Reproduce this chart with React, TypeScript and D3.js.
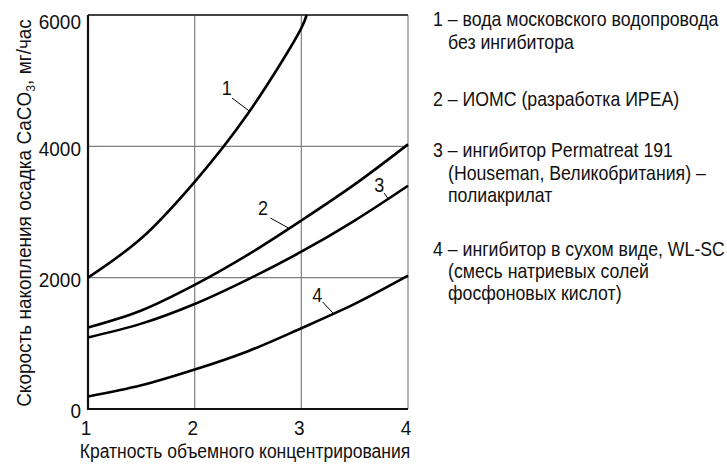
import React from "react";
import * as d3 from "d3";

const xTicks = [1, 2, 3, 4];
const yTicks = [0, 2000, 4000, 6000];

const curve1X = [1, 1.5, 2, 2.5, 3, 3.05];
const curve1Y = [2000, 2600, 3460, 4500, 5800, 6000];
const curveX = [1, 1.5, 2, 2.5, 3, 3.5, 4];
const curve2Y = [1240, 1500, 1890, 2350, 2870, 3420, 4030];
const curve3Y = [1090, 1300, 1600, 1975, 2395, 2870, 3400];
const curve4Y = [190, 360, 600, 880, 1230, 1600, 2030];

const curveLabels = ["1", "2", "3", "4"];
const labelPos = [
  [2.3, 4888],
  [2.64, 3061],
  [3.73, 3411],
  [3.15, 1736],
];
const leaderFrom = [
  [2.35, 4736],
  [2.71, 2908],
  [3.775, 3289],
  [3.2, 1629],
];
const leaderTo = [
  [2.51, 4540],
  [2.875, 2760],
  [3.82, 3190],
  [3.3, 1455],
];

const legendLines = [
  "1 – вода московского водопровода",
  "без ингибитора",
  "2 – ИОМС (разработка ИРЕА)",
  "3 – ингибитор Permatreat 191",
  "(Houseman, Великобритания) –",
  "полиакрилат",
  "4 – ингибитор в сухом виде, WL-SC",
  "(смесь натриевых солей",
  "фосфоновых кислот)",
];
const legendIndent = [false, true, false, false, true, true, false, true, true];
const legendBaselines = [26, 49, 106, 157, 180, 202, 256, 278, 300];

const xLabel = "Кратность объемного концентрирования";

const W = 727;
const H = 468;
const FONT = "'Liberation Sans', Arial, sans-serif";

function CText(props: {
  x: number;
  y: number;
  size: number;
  sx?: number;
  anchor?: "start" | "middle" | "end";
  baseline?: string;
  rotate?: number;
  children: React.ReactNode;
}) {
  const { x, y, size, sx = 1, anchor = "start", baseline, rotate = 0, children } = props;
  return (
    <text
      transform={`translate(${x},${y}) rotate(${rotate}) scale(${sx},1)`}
      textAnchor={anchor}
      dominantBaseline={baseline as any}
      fontSize={size}
      fill="#111"
    >
      {children}
    </text>
  );
}

export default function App() {
  const x = d3.scaleLinear().domain([1, 4]).range([88, 408]);
  const y = d3.scaleLinear().domain([0, 6000]).range([409, 15]);
  const line = d3
    .line<[number, number]>()
    .x((d) => x(d[0]))
    .y((d) => y(d[1]))
    .curve(d3.curveCatmullRom.alpha(0.5));

  const series: [number, number][][] = [
    curve1X.map((v, i) => [v, curve1Y[i]]),
    curveX.map((v, i) => [v, curve2Y[i]]),
    curveX.map((v, i) => [v, curve3Y[i]]),
    curveX.map((v, i) => [v, curve4Y[i]]),
  ];

  const gridColor = "#808080";

  return (
    <div style={{ position: "absolute", left: 0, top: 0 }}>
      <svg width={W} height={H} style={{ display: "block", background: "#fff" }} fontFamily={FONT}>
        <rect width={W} height={H} fill="#fff" />
        {xTicks.slice(1).map((t) => (
          <line key={"gx" + t} x1={x(t)} x2={x(t)} y1={y(6000)} y2={y(0)} stroke={gridColor} strokeWidth={1.2} />
        ))}
        {yTicks.slice(1, 3).map((t) => (
          <line key={"gy" + t} x1={x(1)} x2={x(4)} y1={y(t)} y2={y(t)} stroke={gridColor} strokeWidth={1.2} />
        ))}
        <line x1={x(1)} x2={x(4)} y1={y(6000)} y2={y(6000)} stroke="#444" strokeWidth={1.8} />
        <line x1={x(1)} x2={x(1)} y1={y(6000)} y2={y(0)} stroke="#111" strokeWidth={2.2} />
        <line x1={x(1) - 1} x2={x(4)} y1={y(0)} y2={y(0)} stroke="#111" strokeWidth={2.2} />
        {series.map((s, i) => (
          <path key={"c" + i} d={line(s) || ""} fill="none" stroke="#000" strokeWidth={2.6} />
        ))}
        {curveLabels.map((l, i) => (
          <g key={"l" + i}>
            <line
              x1={x(leaderFrom[i][0])}
              y1={y(leaderFrom[i][1])}
              x2={x(leaderTo[i][0])}
              y2={y(leaderTo[i][1])}
              stroke="#000"
              strokeWidth={1}
            />
            <CText x={x(labelPos[i][0])} y={y(labelPos[i][1])} size={20} sx={0.9} anchor="middle" baseline="central">
              {l}
            </CText>
          </g>
        ))}
        {yTicks.map((t) => (
          <CText key={"yt" + t} x={81} y={t === 6000 ? y(t) + 7 : y(t) + 2} size={20} sx={0.95} anchor="end" baseline="central">
            {t}
          </CText>
        ))}
        {xTicks.map((t) => (
          <CText key={"xt" + t} x={x(t) - 2} y={435} size={20} sx={0.95} anchor="middle">
            {t}
          </CText>
        ))}
        <CText x={245} y={458} size={20} sx={0.875} anchor="middle">
          {xLabel}
        </CText>
        <CText x={31} y={213} size={20} sx={0.95} anchor="middle" rotate={-90}>
          Скорость накопления осадка CaCO
          <tspan fontSize={13} dy={4}>
            3
          </tspan>
          <tspan dy={-4}>, мг/час</tspan>
        </CText>
        {legendLines.map((l, i) => (
          <CText key={"lg" + i} x={legendIndent[i] ? 448 : 433} y={legendBaselines[i]} size={20} sx={0.885}>
            {l}
          </CText>
        ))}
      </svg>
    </div>
  );
}
